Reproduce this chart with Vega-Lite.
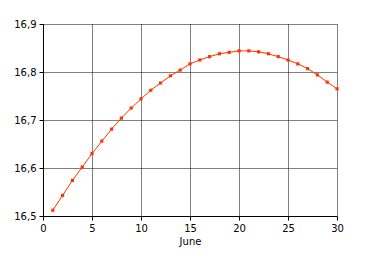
{
  "$schema": "https://vega.github.io/schema/vega-lite/v6.json",
  "autosize": {"type": "none"},
  "width": 294,
  "height": 192,
  "padding": {"left": 43, "top": 24, "right": 34, "bottom": 46},
  "background": "white",
  "config": {
    "view": {"stroke": null},
    "axis": {
      "labelFont": "DejaVu Sans",
      "labelFontSize": 10,
      "labelColor": "black",
      "titleFont": "DejaVu Sans",
      "titleFontSize": 10,
      "titleFontWeight": "normal",
      "titleColor": "black",
      "domainColor": "black",
      "domainWidth": 1,
      "tickColor": "black",
      "tickSize": 4,
      "gridColor": "black",
      "gridDash": [1, 1],
      "gridOpacity": 1,
      "gridWidth": 1
    }
  },
  "data": {
    "values": [
      {"day": 1, "value": 16.512},
      {"day": 2, "value": 16.543},
      {"day": 3, "value": 16.574},
      {"day": 4, "value": 16.602},
      {"day": 5, "value": 16.630},
      {"day": 6, "value": 16.656},
      {"day": 7, "value": 16.681},
      {"day": 8, "value": 16.704},
      {"day": 9, "value": 16.725},
      {"day": 10, "value": 16.744},
      {"day": 11, "value": 16.762},
      {"day": 12, "value": 16.777},
      {"day": 13, "value": 16.792},
      {"day": 14, "value": 16.804},
      {"day": 15, "value": 16.817},
      {"day": 16, "value": 16.825},
      {"day": 17, "value": 16.832},
      {"day": 18, "value": 16.838},
      {"day": 19, "value": 16.841},
      {"day": 20, "value": 16.844},
      {"day": 21, "value": 16.844},
      {"day": 22, "value": 16.842},
      {"day": 23, "value": 16.838},
      {"day": 24, "value": 16.832},
      {"day": 25, "value": 16.825},
      {"day": 26, "value": 16.817},
      {"day": 27, "value": 16.807},
      {"day": 28, "value": 16.794},
      {"day": 29, "value": 16.779},
      {"day": 30, "value": 16.765}
    ]
  },
  "encoding": {
    "x": {
      "field": "day",
      "type": "quantitative",
      "scale": {"domain": [0, 30], "nice": false},
      "axis": {
        "values": [0, 5, 10, 15, 20, 25, 30],
        "title": "June",
        "titlePadding": 3,
        "labelPadding": 3,
        "labelFlush": false
      }
    },
    "y": {
      "field": "value",
      "type": "quantitative",
      "scale": {"domain": [16.5, 16.9], "nice": false, "zero": false},
      "axis": {
        "values": [16.5, 16.6, 16.7, 16.8, 16.9],
        "title": null,
        "labelPadding": 3,
        "labelFlush": false,
        "labelExpr": "replace(format(datum.value, '.1f'), '.', ',')"
      }
    }
  },
  "layer": [
    {"mark": {"type": "line", "color": "#ff3300", "strokeWidth": 1}},
    {"mark": {"type": "square", "color": "#ff3300", "filled": true, "opacity": 1, "size": 10}}
  ]
}
